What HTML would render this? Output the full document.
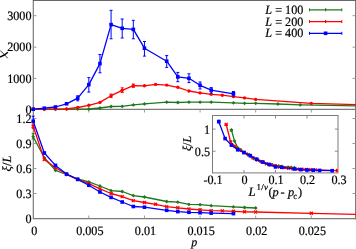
<!DOCTYPE html>
<html><head><meta charset="utf-8"><style>
html,body{margin:0;padding:0;background:#fff;width:356px;height:249px;overflow:hidden}
svg{display:block;will-change:transform}
text{font-family:"Liberation Serif",serif;fill:#000;stroke:#000;stroke-width:0.2px;text-rendering:geometricPrecision}
</style></head><body>
<svg width="356" height="249" viewBox="0 0 356 249">
<rect width="356" height="249" fill="#fff"/>
<defs><clipPath id="ct"><rect x="33" y="0" width="323" height="110"/></clipPath><clipPath id="cl"><rect x="33" y="109" width="323" height="110"/></clipPath><clipPath id="ci"><rect x="212.5" y="115.5" width="125.5" height="57.5"/></clipPath></defs>
<line x1="33.3" y1="0" x2="33.3" y2="219.3" stroke="#7a7a7a" stroke-width="1.2"/>
<line x1="355.5" y1="0" x2="355.5" y2="219.3" stroke="#7a7a7a" stroke-width="1.0"/>
<line x1="33" y1="0.4" x2="356" y2="0.4" stroke="#555555" stroke-width="1.0"/>
<line x1="33" y1="109.3" x2="356" y2="109.3" stroke="#7a7a7a" stroke-width="1.2"/>
<line x1="33" y1="218.6" x2="356" y2="218.6" stroke="#7a7a7a" stroke-width="1.3"/>
<line x1="33.5" y1="78.4" x2="36.5" y2="78.4" stroke="#999999" stroke-width="1"/>
<line x1="352.5" y1="78.4" x2="355.5" y2="78.4" stroke="#999999" stroke-width="1"/>
<line x1="33.5" y1="47.2" x2="36.5" y2="47.2" stroke="#999999" stroke-width="1"/>
<line x1="352.5" y1="47.2" x2="355.5" y2="47.2" stroke="#999999" stroke-width="1"/>
<line x1="33.5" y1="15.7" x2="36.5" y2="15.7" stroke="#999999" stroke-width="1"/>
<line x1="352.5" y1="15.7" x2="355.5" y2="15.7" stroke="#999999" stroke-width="1"/>
<line x1="33.5" y1="193.5" x2="36.5" y2="193.5" stroke="#999999" stroke-width="1"/>
<line x1="352.5" y1="193.5" x2="355.5" y2="193.5" stroke="#999999" stroke-width="1"/>
<line x1="33.5" y1="168.5" x2="36.5" y2="168.5" stroke="#999999" stroke-width="1"/>
<line x1="352.5" y1="168.5" x2="355.5" y2="168.5" stroke="#999999" stroke-width="1"/>
<line x1="33.5" y1="143.5" x2="36.5" y2="143.5" stroke="#999999" stroke-width="1"/>
<line x1="352.5" y1="143.5" x2="355.5" y2="143.5" stroke="#999999" stroke-width="1"/>
<line x1="33.5" y1="118.5" x2="36.5" y2="118.5" stroke="#999999" stroke-width="1"/>
<line x1="352.5" y1="118.5" x2="355.5" y2="118.5" stroke="#999999" stroke-width="1"/>
<line x1="88.8" y1="215.5" x2="88.8" y2="218.5" stroke="#999999" stroke-width="1"/>
<line x1="88.8" y1="109.5" x2="88.8" y2="112.5" stroke="#999999" stroke-width="1"/>
<line x1="144.45" y1="215.5" x2="144.45" y2="218.5" stroke="#999999" stroke-width="1"/>
<line x1="144.45" y1="109.5" x2="144.45" y2="112.5" stroke="#999999" stroke-width="1"/>
<line x1="200.1" y1="215.5" x2="200.1" y2="218.5" stroke="#999999" stroke-width="1"/>
<line x1="200.1" y1="109.5" x2="200.1" y2="112.5" stroke="#999999" stroke-width="1"/>
<line x1="255.7" y1="215.5" x2="255.7" y2="218.5" stroke="#999999" stroke-width="1"/>
<line x1="255.7" y1="109.5" x2="255.7" y2="112.5" stroke="#999999" stroke-width="1"/>
<line x1="311.3" y1="215.5" x2="311.3" y2="218.5" stroke="#999999" stroke-width="1"/>
<line x1="311.3" y1="109.5" x2="311.3" y2="112.5" stroke="#999999" stroke-width="1"/>
<polyline points="33.2,109.3 44.33,109.3 55.45,109.3 66.58,109.2 77.7,109.1 88.83,109 99.95,108 111.08,106.5 122.2,106.4 133.32,104.9 144.45,103.9 166.7,102.2 177.82,102.5 188.95,102.2 200.07,102.2 211.2,102.2 233.45,102.8 244.57,103.3 255.7,103.3 277.95,104 300.2,104.8 366.95,106" fill="none" stroke="#1c7a1c" stroke-width="1.3" stroke-linejoin="round" clip-path="url(#ct)"/>
<path d="M33.2,107.4L35.1,109.3L33.2,111.2L31.3,109.3Z" fill="#1c7a1c"/>
<path d="M44.33,107.4L46.23,109.3L44.33,111.2L42.43,109.3Z" fill="#1c7a1c"/>
<path d="M55.45,107.4L57.35,109.3L55.45,111.2L53.55,109.3Z" fill="#1c7a1c"/>
<path d="M66.58,107.3L68.48,109.2L66.58,111.1L64.67,109.2Z" fill="#1c7a1c"/>
<path d="M77.7,107.2L79.6,109.1L77.7,111L75.8,109.1Z" fill="#1c7a1c"/>
<path d="M88.83,107.1L90.73,109L88.83,110.9L86.92,109Z" fill="#1c7a1c"/>
<path d="M99.95,106.1L101.85,108L99.95,109.9L98.05,108Z" fill="#1c7a1c"/>
<path d="M111.08,104.6L112.98,106.5L111.08,108.4L109.17,106.5Z" fill="#1c7a1c"/>
<path d="M122.2,104.5L124.1,106.4L122.2,108.3L120.3,106.4Z" fill="#1c7a1c"/>
<path d="M133.32,103L135.22,104.9L133.32,106.8L131.42,104.9Z" fill="#1c7a1c"/>
<path d="M144.45,102L146.35,103.9L144.45,105.8L142.55,103.9Z" fill="#1c7a1c"/>
<path d="M166.7,100.3L168.6,102.2L166.7,104.1L164.8,102.2Z" fill="#1c7a1c"/>
<path d="M177.82,100.6L179.72,102.5L177.82,104.4L175.92,102.5Z" fill="#1c7a1c"/>
<path d="M188.95,100.3L190.85,102.2L188.95,104.1L187.05,102.2Z" fill="#1c7a1c"/>
<path d="M200.07,100.3L201.97,102.2L200.07,104.1L198.17,102.2Z" fill="#1c7a1c"/>
<path d="M211.2,100.3L213.1,102.2L211.2,104.1L209.3,102.2Z" fill="#1c7a1c"/>
<path d="M233.45,100.9L235.35,102.8L233.45,104.7L231.55,102.8Z" fill="#1c7a1c"/>
<path d="M244.57,101.4L246.47,103.3L244.57,105.2L242.67,103.3Z" fill="#1c7a1c"/>
<path d="M255.7,101.4L257.6,103.3L255.7,105.2L253.8,103.3Z" fill="#1c7a1c"/>
<path d="M277.95,102.1L279.85,104L277.95,105.9L276.05,104Z" fill="#1c7a1c"/>
<path d="M300.2,102.9L302.1,104.8L300.2,106.7L298.3,104.8Z" fill="#1c7a1c"/>
<polyline points="33.2,109.3 44.33,109.2 55.45,109.1 66.58,108.9 77.7,107.5 88.83,105.3 99.95,102.4 111.08,95.7 122.2,90.3 133.32,85.6 144.45,85.8 155.57,84.4 166.7,85.1 177.82,87.3 188.95,91 200.07,92.9 211.2,94.3 222.32,95.2 233.45,96.6 244.57,97.9 255.7,99.4 311.32,103.4 366.95,105" fill="none" stroke="#ff0000" stroke-width="1.3" stroke-linejoin="round" clip-path="url(#ct)"/>
<circle cx="33.2" cy="109.3" r="1.7" fill="#ff0000"/>
<circle cx="44.33" cy="109.2" r="1.7" fill="#ff0000"/>
<circle cx="55.45" cy="109.1" r="1.7" fill="#ff0000"/>
<circle cx="66.58" cy="108.9" r="1.7" fill="#ff0000"/>
<circle cx="77.7" cy="107.5" r="1.7" fill="#ff0000"/>
<circle cx="88.83" cy="105.3" r="1.7" fill="#ff0000"/>
<circle cx="99.95" cy="102.4" r="1.7" fill="#ff0000"/>
<path d="M111.08,94.1V97.5M109.58,94.1H112.58M109.58,97.5H112.58" stroke="#ff0000" stroke-width="1" fill="none"/>
<circle cx="111.08" cy="95.7" r="1.7" fill="#ff0000"/>
<path d="M122.2,87.8V92.6M120.7,87.8H123.7M120.7,92.6H123.7" stroke="#ff0000" stroke-width="1" fill="none"/>
<circle cx="122.2" cy="90.3" r="1.7" fill="#ff0000"/>
<path d="M133.32,84V87.4M131.82,84H134.82M131.82,87.4H134.82" stroke="#ff0000" stroke-width="1" fill="none"/>
<circle cx="133.32" cy="85.6" r="1.7" fill="#ff0000"/>
<circle cx="144.45" cy="85.8" r="1.7" fill="#ff0000"/>
<circle cx="155.57" cy="84.4" r="1.7" fill="#ff0000"/>
<circle cx="166.7" cy="85.1" r="1.7" fill="#ff0000"/>
<circle cx="177.82" cy="87.3" r="1.7" fill="#ff0000"/>
<circle cx="188.95" cy="91" r="1.7" fill="#ff0000"/>
<circle cx="200.07" cy="92.9" r="1.7" fill="#ff0000"/>
<circle cx="211.2" cy="94.3" r="1.7" fill="#ff0000"/>
<circle cx="222.32" cy="95.2" r="1.7" fill="#ff0000"/>
<circle cx="233.45" cy="96.6" r="1.7" fill="#ff0000"/>
<circle cx="244.57" cy="97.9" r="1.7" fill="#ff0000"/>
<circle cx="255.7" cy="99.4" r="1.7" fill="#ff0000"/>
<circle cx="311.32" cy="103.4" r="1.7" fill="#ff0000"/>
<polyline points="33.2,109.2 44.33,108.2 55.45,107 66.58,103.8 77.7,98.2 88.83,84.6 99.95,63.6 111.08,24.6 122.2,28.3 133.32,29.4 144.45,48.2 166.7,61.2 177.82,76.9 188.95,78.3 200.07,85.3 211.2,90.1 233.45,93.8" fill="none" stroke="#0000ff" stroke-width="1.3" stroke-linejoin="round" clip-path="url(#ct)"/>
<rect x="31.4" y="107.4" width="3.6" height="3.6" fill="#0000ff"/>
<rect x="42.53" y="106.4" width="3.6" height="3.6" fill="#0000ff"/>
<rect x="53.65" y="105.2" width="3.6" height="3.6" fill="#0000ff"/>
<rect x="64.78" y="102" width="3.6" height="3.6" fill="#0000ff"/>
<path d="M77.7,95.8V100.8M76.2,95.8H79.2M76.2,100.8H79.2" stroke="#0000ff" stroke-width="1" fill="none"/>
<rect x="75.9" y="96.4" width="3.6" height="3.6" fill="#0000ff"/>
<path d="M88.83,77.6V92.1M87.33,77.6H90.33M87.33,92.1H90.33" stroke="#0000ff" stroke-width="1" fill="none"/>
<rect x="87.03" y="82.8" width="3.6" height="3.6" fill="#0000ff"/>
<path d="M99.95,54.5V72.8M98.45,54.5H101.45M98.45,72.8H101.45" stroke="#0000ff" stroke-width="1" fill="none"/>
<rect x="98.15" y="61.8" width="3.6" height="3.6" fill="#0000ff"/>
<path d="M111.08,10.3V38.8M109.58,10.3H112.58M109.58,38.8H112.58" stroke="#0000ff" stroke-width="1" fill="none"/>
<rect x="109.28" y="22.8" width="3.6" height="3.6" fill="#0000ff"/>
<path d="M122.2,19V38M120.7,19H123.7M120.7,38H123.7" stroke="#0000ff" stroke-width="1" fill="none"/>
<rect x="120.4" y="26.5" width="3.6" height="3.6" fill="#0000ff"/>
<path d="M133.32,20.3V38.8M131.82,20.3H134.82M131.82,38.8H134.82" stroke="#0000ff" stroke-width="1" fill="none"/>
<rect x="131.52" y="27.6" width="3.6" height="3.6" fill="#0000ff"/>
<path d="M144.45,41.5V56.1M142.95,41.5H145.95M142.95,56.1H145.95" stroke="#0000ff" stroke-width="1" fill="none"/>
<rect x="142.65" y="46.4" width="3.6" height="3.6" fill="#0000ff"/>
<path d="M166.7,55.6V67.4M165.2,55.6H168.2M165.2,67.4H168.2" stroke="#0000ff" stroke-width="1" fill="none"/>
<rect x="164.9" y="59.4" width="3.6" height="3.6" fill="#0000ff"/>
<path d="M177.82,72.4V81.7M176.32,72.4H179.32M176.32,81.7H179.32" stroke="#0000ff" stroke-width="1" fill="none"/>
<rect x="176.02" y="75.1" width="3.6" height="3.6" fill="#0000ff"/>
<path d="M188.95,73.8V82.6M187.45,73.8H190.45M187.45,82.6H190.45" stroke="#0000ff" stroke-width="1" fill="none"/>
<rect x="187.15" y="76.5" width="3.6" height="3.6" fill="#0000ff"/>
<path d="M200.07,82V89M198.57,82H201.57M198.57,89H201.57" stroke="#0000ff" stroke-width="1" fill="none"/>
<rect x="198.27" y="83.5" width="3.6" height="3.6" fill="#0000ff"/>
<path d="M211.2,87.6V93M209.7,87.6H212.7M209.7,93H212.7" stroke="#0000ff" stroke-width="1" fill="none"/>
<rect x="209.4" y="88.3" width="3.6" height="3.6" fill="#0000ff"/>
<path d="M233.45,91.5V96M231.95,91.5H234.95M231.95,96H234.95" stroke="#0000ff" stroke-width="1" fill="none"/>
<rect x="231.65" y="92" width="3.6" height="3.6" fill="#0000ff"/>
<polyline points="33.2,136.7 44.33,157.8 55.45,170.3 66.58,174.5 77.7,179 88.83,181.9 99.95,186 111.08,190.7 122.2,191.5 133.32,195.6 144.45,197 166.7,201.5 177.82,202.2 188.95,204.4 200.07,204.7 211.2,205.7 233.45,206.9 244.57,207.5 255.7,208" fill="none" stroke="#1c7a1c" stroke-width="1.3" stroke-linejoin="round" clip-path="url(#cl)"/>
<path d="M33.2,133.7V139M31.7,133.7H34.7M31.7,139H34.7" stroke="#1c7a1c" stroke-width="1" fill="none"/>
<path d="M33.2,134.8L35.1,136.7L33.2,138.6L31.3,136.7Z" fill="#1c7a1c"/>
<path d="M44.33,155.9L46.23,157.8L44.33,159.7L42.43,157.8Z" fill="#1c7a1c"/>
<path d="M55.45,168.4L57.35,170.3L55.45,172.2L53.55,170.3Z" fill="#1c7a1c"/>
<path d="M66.58,172.6L68.48,174.5L66.58,176.4L64.67,174.5Z" fill="#1c7a1c"/>
<path d="M77.7,177.1L79.6,179L77.7,180.9L75.8,179Z" fill="#1c7a1c"/>
<path d="M88.83,180L90.73,181.9L88.83,183.8L86.92,181.9Z" fill="#1c7a1c"/>
<path d="M99.95,184.1L101.85,186L99.95,187.9L98.05,186Z" fill="#1c7a1c"/>
<path d="M111.08,188.8L112.98,190.7L111.08,192.6L109.17,190.7Z" fill="#1c7a1c"/>
<path d="M122.2,189.6L124.1,191.5L122.2,193.4L120.3,191.5Z" fill="#1c7a1c"/>
<path d="M133.32,193.7L135.22,195.6L133.32,197.5L131.42,195.6Z" fill="#1c7a1c"/>
<path d="M144.45,195.1L146.35,197L144.45,198.9L142.55,197Z" fill="#1c7a1c"/>
<path d="M166.7,199.6L168.6,201.5L166.7,203.4L164.8,201.5Z" fill="#1c7a1c"/>
<path d="M177.82,200.3L179.72,202.2L177.82,204.1L175.92,202.2Z" fill="#1c7a1c"/>
<path d="M188.95,202.5L190.85,204.4L188.95,206.3L187.05,204.4Z" fill="#1c7a1c"/>
<path d="M200.07,202.8L201.97,204.7L200.07,206.6L198.17,204.7Z" fill="#1c7a1c"/>
<path d="M211.2,203.8L213.1,205.7L211.2,207.6L209.3,205.7Z" fill="#1c7a1c"/>
<path d="M233.45,205L235.35,206.9L233.45,208.8L231.55,206.9Z" fill="#1c7a1c"/>
<path d="M244.57,205.6L246.47,207.5L244.57,209.4L242.67,207.5Z" fill="#1c7a1c"/>
<path d="M255.7,206.1L257.6,208L255.7,209.9L253.8,208Z" fill="#1c7a1c"/>
<polyline points="33.2,126.2 44.33,159.5 55.45,167.8 66.58,174.3 77.7,179.4 88.83,183.6 99.95,188.9 111.08,193.5 122.2,196.6 133.32,200.6 144.45,202.5 155.57,204.3 166.7,206.6 177.82,207.8 188.95,209 200.07,209.8 211.2,210.6 222.32,210.9 233.45,211.3 244.57,211.8 255.7,212 311.32,213.3 366.95,214.7" fill="none" stroke="#ff0000" stroke-width="1.3" stroke-linejoin="round" clip-path="url(#cl)"/>
<path d="M33.2,124V128.3M31.7,124H34.7M31.7,128.3H34.7" stroke="#ff0000" stroke-width="1" fill="none"/>
<path d="M31.7,124.7L34.7,127.7M31.7,127.7L34.7,124.7" stroke="#ff0000" stroke-width="1.3"/>
<path d="M42.83,158L45.83,161M42.83,161L45.83,158" stroke="#ff0000" stroke-width="1.3"/>
<path d="M53.95,166.3L56.95,169.3M53.95,169.3L56.95,166.3" stroke="#ff0000" stroke-width="1.3"/>
<path d="M65.08,172.8L68.08,175.8M65.08,175.8L68.08,172.8" stroke="#ff0000" stroke-width="1.3"/>
<path d="M76.2,177.9L79.2,180.9M76.2,180.9L79.2,177.9" stroke="#ff0000" stroke-width="1.3"/>
<path d="M87.33,182.1L90.33,185.1M87.33,185.1L90.33,182.1" stroke="#ff0000" stroke-width="1.3"/>
<path d="M98.45,187.4L101.45,190.4M98.45,190.4L101.45,187.4" stroke="#ff0000" stroke-width="1.3"/>
<path d="M109.58,192L112.58,195M109.58,195L112.58,192" stroke="#ff0000" stroke-width="1.3"/>
<path d="M120.7,195.1L123.7,198.1M120.7,198.1L123.7,195.1" stroke="#ff0000" stroke-width="1.3"/>
<path d="M131.82,199.1L134.82,202.1M131.82,202.1L134.82,199.1" stroke="#ff0000" stroke-width="1.3"/>
<path d="M142.95,201L145.95,204M142.95,204L145.95,201" stroke="#ff0000" stroke-width="1.3"/>
<path d="M154.07,202.8L157.07,205.8M154.07,205.8L157.07,202.8" stroke="#ff0000" stroke-width="1.3"/>
<path d="M165.2,205.1L168.2,208.1M165.2,208.1L168.2,205.1" stroke="#ff0000" stroke-width="1.3"/>
<path d="M176.32,206.3L179.32,209.3M176.32,209.3L179.32,206.3" stroke="#ff0000" stroke-width="1.3"/>
<path d="M187.45,207.5L190.45,210.5M187.45,210.5L190.45,207.5" stroke="#ff0000" stroke-width="1.3"/>
<path d="M198.57,208.3L201.57,211.3M198.57,211.3L201.57,208.3" stroke="#ff0000" stroke-width="1.3"/>
<path d="M209.7,209.1L212.7,212.1M209.7,212.1L212.7,209.1" stroke="#ff0000" stroke-width="1.3"/>
<path d="M220.82,209.4L223.82,212.4M220.82,212.4L223.82,209.4" stroke="#ff0000" stroke-width="1.3"/>
<path d="M231.95,209.8L234.95,212.8M231.95,212.8L234.95,209.8" stroke="#ff0000" stroke-width="1.3"/>
<path d="M243.07,210.3L246.07,213.3M243.07,213.3L246.07,210.3" stroke="#ff0000" stroke-width="1.3"/>
<path d="M254.2,210.5L257.2,213.5M254.2,213.5L257.2,210.5" stroke="#ff0000" stroke-width="1.3"/>
<path d="M309.82,211.8L312.82,214.8M309.82,214.8L312.82,211.8" stroke="#ff0000" stroke-width="1.3"/>
<polyline points="33.2,121.2 44.33,153 55.45,165.4 66.58,174.1 77.7,179.4 88.83,185.3 99.95,192 111.08,197.4 122.2,202 133.32,206.5 144.45,207.2 166.7,210.3 177.82,211.6 188.95,212.3 200.07,212.7 211.2,213.1 233.45,213.6" fill="none" stroke="#0000ff" stroke-width="1.3" stroke-linejoin="round" clip-path="url(#cl)"/>
<path d="M33.2,116.2V122.2M31.7,116.2H34.7M31.7,122.2H34.7" stroke="#0000ff" stroke-width="1" fill="none"/>
<rect x="31.4" y="119.4" width="3.6" height="3.6" fill="#0000ff"/>
<rect x="42.53" y="151.2" width="3.6" height="3.6" fill="#0000ff"/>
<rect x="53.65" y="163.6" width="3.6" height="3.6" fill="#0000ff"/>
<rect x="64.78" y="172.3" width="3.6" height="3.6" fill="#0000ff"/>
<rect x="75.9" y="177.6" width="3.6" height="3.6" fill="#0000ff"/>
<rect x="87.03" y="183.5" width="3.6" height="3.6" fill="#0000ff"/>
<rect x="98.15" y="190.2" width="3.6" height="3.6" fill="#0000ff"/>
<rect x="109.28" y="195.6" width="3.6" height="3.6" fill="#0000ff"/>
<rect x="120.4" y="200.2" width="3.6" height="3.6" fill="#0000ff"/>
<rect x="131.52" y="204.7" width="3.6" height="3.6" fill="#0000ff"/>
<rect x="142.65" y="205.4" width="3.6" height="3.6" fill="#0000ff"/>
<rect x="164.9" y="208.5" width="3.6" height="3.6" fill="#0000ff"/>
<rect x="176.02" y="209.8" width="3.6" height="3.6" fill="#0000ff"/>
<rect x="187.15" y="210.5" width="3.6" height="3.6" fill="#0000ff"/>
<rect x="198.27" y="210.9" width="3.6" height="3.6" fill="#0000ff"/>
<rect x="209.4" y="211.3" width="3.6" height="3.6" fill="#0000ff"/>
<rect x="231.65" y="211.8" width="3.6" height="3.6" fill="#0000ff"/>
<rect x="212.5" y="115.5" width="125.5" height="57.4" fill="#fff" stroke="#7a7a7a" stroke-width="1"/>
<line x1="244" y1="172.9" x2="244" y2="170" stroke="#888" stroke-width="1"/>
<line x1="244" y1="115.5" x2="244" y2="118.6" stroke="#888" stroke-width="1"/>
<line x1="275.5" y1="172.9" x2="275.5" y2="170" stroke="#888" stroke-width="1"/>
<line x1="275.5" y1="115.5" x2="275.5" y2="118.6" stroke="#888" stroke-width="1"/>
<line x1="307" y1="172.9" x2="307" y2="170" stroke="#888" stroke-width="1"/>
<line x1="307" y1="115.5" x2="307" y2="118.6" stroke="#888" stroke-width="1"/>
<line x1="212.5" y1="151.2" x2="215.6" y2="151.2" stroke="#888" stroke-width="1"/>
<line x1="338" y1="151.2" x2="334.9" y2="151.2" stroke="#888" stroke-width="1"/>
<line x1="212.5" y1="129.1" x2="215.6" y2="129.1" stroke="#888" stroke-width="1"/>
<line x1="338" y1="129.1" x2="334.9" y2="129.1" stroke="#888" stroke-width="1"/>
<polyline points="231.4,129.91 234.55,141.1 237.7,147.73 240.85,149.96 244,152.35 247.15,153.89 250.3,156.06 253.45,158.55 256.6,158.98 259.75,161.15 262.9,161.9 269.2,164.28 272.35,164.65 275.5,165.82 278.65,165.98 281.8,166.51 288.1,167.15 291.25,167.47 294.4,167.73" fill="none" stroke="#1c7a1c" stroke-width="1.3" stroke-linejoin="round" clip-path="url(#ci)"/>
<g clip-path="url(#ci)">
<path d="M231.4,129.52V131.13M229.8,129.52H233M229.8,131.13H233" stroke="#1c7a1c" stroke-width="1" fill="none"/>
<path d="M231.4,128.01L233.3,129.91L231.4,131.81L229.5,129.91Z" fill="#1c7a1c"/>
<path d="M234.55,139.2L236.45,141.1L234.55,143L232.65,141.1Z" fill="#1c7a1c"/>
<path d="M237.7,145.83L239.6,147.73L237.7,149.63L235.8,147.73Z" fill="#1c7a1c"/>
<path d="M240.85,148.06L242.75,149.96L240.85,151.86L238.95,149.96Z" fill="#1c7a1c"/>
<path d="M244,150.45L245.9,152.35L244,154.25L242.1,152.35Z" fill="#1c7a1c"/>
<path d="M247.15,151.99L249.05,153.89L247.15,155.79L245.25,153.89Z" fill="#1c7a1c"/>
<path d="M250.3,154.16L252.2,156.06L250.3,157.96L248.4,156.06Z" fill="#1c7a1c"/>
<path d="M253.45,156.65L255.35,158.55L253.45,160.45L251.55,158.55Z" fill="#1c7a1c"/>
<path d="M256.6,157.08L258.5,158.98L256.6,160.88L254.7,158.98Z" fill="#1c7a1c"/>
<path d="M259.75,159.25L261.65,161.15L259.75,163.05L257.85,161.15Z" fill="#1c7a1c"/>
<path d="M262.9,160L264.8,161.9L262.9,163.8L261,161.9Z" fill="#1c7a1c"/>
<path d="M269.2,162.38L271.1,164.28L269.2,166.18L267.3,164.28Z" fill="#1c7a1c"/>
<path d="M272.35,162.75L274.25,164.65L272.35,166.55L270.45,164.65Z" fill="#1c7a1c"/>
<path d="M275.5,163.92L277.4,165.82L275.5,167.72L273.6,165.82Z" fill="#1c7a1c"/>
<path d="M278.65,164.08L280.55,165.98L278.65,167.88L276.75,165.98Z" fill="#1c7a1c"/>
<path d="M281.8,164.61L283.7,166.51L281.8,168.41L279.9,166.51Z" fill="#1c7a1c"/>
<path d="M288.1,165.25L290,167.15L288.1,169.05L286.2,167.15Z" fill="#1c7a1c"/>
<path d="M291.25,165.57L293.15,167.47L291.25,169.37L289.35,167.47Z" fill="#1c7a1c"/>
<path d="M294.4,165.83L296.3,167.73L294.4,169.63L292.5,167.73Z" fill="#1c7a1c"/>
</g>
<polyline points="226.18,124.34 230.64,142.01 235.09,146.41 239.55,149.86 244,152.56 248.45,154.79 252.91,157.6 257.36,160.04 261.82,161.68 266.27,163.81 270.73,164.81 275.18,165.77 279.64,166.99 284.09,167.62 288.55,168.26 293,168.69 297.46,169.11 301.91,169.27 306.37,169.48 310.82,169.75 315.28,169.85 337.55,170.54 359.82,171.28" fill="none" stroke="#ff0000" stroke-width="1.3" stroke-linejoin="round" clip-path="url(#ci)"/>
<g clip-path="url(#ci)">
<path d="M226.18,124.38V125.46M224.58,124.38H227.78M224.58,125.46H227.78" stroke="#ff0000" stroke-width="1" fill="none"/>
<path d="M224.68,122.84L227.68,125.84M224.68,125.84L227.68,122.84" stroke="#ff0000" stroke-width="1.3"/>
<path d="M229.14,140.51L232.14,143.51M229.14,143.51L232.14,140.51" stroke="#ff0000" stroke-width="1.3"/>
<path d="M233.59,144.91L236.59,147.91M233.59,147.91L236.59,144.91" stroke="#ff0000" stroke-width="1.3"/>
<path d="M238.05,148.36L241.05,151.36M238.05,151.36L241.05,148.36" stroke="#ff0000" stroke-width="1.3"/>
<path d="M242.5,151.06L245.5,154.06M242.5,154.06L245.5,151.06" stroke="#ff0000" stroke-width="1.3"/>
<path d="M246.95,153.29L249.95,156.29M246.95,156.29L249.95,153.29" stroke="#ff0000" stroke-width="1.3"/>
<path d="M251.41,156.1L254.41,159.1M251.41,159.1L254.41,156.1" stroke="#ff0000" stroke-width="1.3"/>
<path d="M255.86,158.54L258.86,161.54M255.86,161.54L258.86,158.54" stroke="#ff0000" stroke-width="1.3"/>
<path d="M260.32,160.18L263.32,163.18M260.32,163.18L263.32,160.18" stroke="#ff0000" stroke-width="1.3"/>
<path d="M264.77,162.31L267.77,165.31M264.77,165.31L267.77,162.31" stroke="#ff0000" stroke-width="1.3"/>
<path d="M269.23,163.31L272.23,166.31M269.23,166.31L272.23,163.31" stroke="#ff0000" stroke-width="1.3"/>
<path d="M273.68,164.27L276.68,167.27M273.68,167.27L276.68,164.27" stroke="#ff0000" stroke-width="1.3"/>
<path d="M278.14,165.49L281.14,168.49M278.14,168.49L281.14,165.49" stroke="#ff0000" stroke-width="1.3"/>
<path d="M282.59,166.12L285.59,169.12M282.59,169.12L285.59,166.12" stroke="#ff0000" stroke-width="1.3"/>
<path d="M287.05,166.76L290.05,169.76M287.05,169.76L290.05,166.76" stroke="#ff0000" stroke-width="1.3"/>
<path d="M291.5,167.19L294.5,170.19M291.5,170.19L294.5,167.19" stroke="#ff0000" stroke-width="1.3"/>
<path d="M295.96,167.61L298.96,170.61M295.96,170.61L298.96,167.61" stroke="#ff0000" stroke-width="1.3"/>
<path d="M300.41,167.77L303.41,170.77M300.41,170.77L303.41,167.77" stroke="#ff0000" stroke-width="1.3"/>
<path d="M304.87,167.98L307.87,170.98M304.87,170.98L307.87,167.98" stroke="#ff0000" stroke-width="1.3"/>
<path d="M309.32,168.25L312.32,171.25M309.32,171.25L312.32,168.25" stroke="#ff0000" stroke-width="1.3"/>
<path d="M313.78,168.35L316.78,171.35M313.78,171.35L316.78,168.35" stroke="#ff0000" stroke-width="1.3"/>
<path d="M336.05,169.04L339.05,172.04M336.05,172.04L339.05,169.04" stroke="#ff0000" stroke-width="1.3"/>
<path d="M358.32,169.78L361.32,172.78M358.32,172.78L361.32,169.78" stroke="#ff0000" stroke-width="1.3"/>
</g>
<polyline points="218.8,121.69 225.1,138.56 231.4,145.13 237.7,149.75 244,152.56 250.3,155.69 256.6,159.24 262.9,162.11 269.2,164.55 275.5,166.93 281.8,167.31 294.4,168.95 300.7,169.64 307,170.01 313.3,170.22 319.6,170.44 332.2,170.7" fill="none" stroke="#0000ff" stroke-width="1.3" stroke-linejoin="round" clip-path="url(#ci)"/>
<g clip-path="url(#ci)">
<path d="M218.8,120.24V122.22M217.2,120.24H220.4M217.2,122.22H220.4" stroke="#0000ff" stroke-width="1" fill="none"/>
<rect x="217" y="119.89" width="3.6" height="3.6" fill="#0000ff"/>
<rect x="223.3" y="136.76" width="3.6" height="3.6" fill="#0000ff"/>
<rect x="229.6" y="143.33" width="3.6" height="3.6" fill="#0000ff"/>
<rect x="235.9" y="147.95" width="3.6" height="3.6" fill="#0000ff"/>
<rect x="242.2" y="150.76" width="3.6" height="3.6" fill="#0000ff"/>
<rect x="248.5" y="153.89" width="3.6" height="3.6" fill="#0000ff"/>
<rect x="254.8" y="157.44" width="3.6" height="3.6" fill="#0000ff"/>
<rect x="261.1" y="160.31" width="3.6" height="3.6" fill="#0000ff"/>
<rect x="267.4" y="162.75" width="3.6" height="3.6" fill="#0000ff"/>
<rect x="273.7" y="165.13" width="3.6" height="3.6" fill="#0000ff"/>
<rect x="280" y="165.51" width="3.6" height="3.6" fill="#0000ff"/>
<rect x="292.6" y="167.15" width="3.6" height="3.6" fill="#0000ff"/>
<rect x="298.9" y="167.84" width="3.6" height="3.6" fill="#0000ff"/>
<rect x="305.2" y="168.21" width="3.6" height="3.6" fill="#0000ff"/>
<rect x="311.5" y="168.42" width="3.6" height="3.6" fill="#0000ff"/>
<rect x="317.8" y="168.64" width="3.6" height="3.6" fill="#0000ff"/>
<rect x="330.4" y="168.9" width="3.6" height="3.6" fill="#0000ff"/>
</g>
<line x1="309.5" y1="9.8" x2="341.8" y2="9.8" stroke="#1c7a1c" stroke-width="1.3"/>
<line x1="309.5" y1="8.3" x2="309.5" y2="11.3" stroke="#1c7a1c" stroke-width="1"/>
<line x1="341.8" y1="8.3" x2="341.8" y2="11.3" stroke="#1c7a1c" stroke-width="1"/>
<line x1="325.6" y1="8.3" x2="325.6" y2="11.3" stroke="#1c7a1c" stroke-width="1.2"/>
<line x1="309.5" y1="21.55" x2="341.8" y2="21.55" stroke="#ff0000" stroke-width="1.3"/>
<line x1="309.5" y1="20.05" x2="309.5" y2="23.05" stroke="#ff0000" stroke-width="1"/>
<line x1="341.8" y1="20.05" x2="341.8" y2="23.05" stroke="#ff0000" stroke-width="1"/>
<line x1="325.6" y1="20.05" x2="325.6" y2="23.05" stroke="#ff0000" stroke-width="1.2"/>
<line x1="309.5" y1="33.3" x2="341.8" y2="33.3" stroke="#0000ff" stroke-width="1.3"/>
<line x1="309.5" y1="31.8" x2="309.5" y2="34.8" stroke="#0000ff" stroke-width="1"/>
<line x1="341.8" y1="31.8" x2="341.8" y2="34.8" stroke="#0000ff" stroke-width="1"/>
<rect x="323.8" y="31.5" width="3.6" height="3.6" fill="#0000ff"/>
<text transform="translate(31.5,20.01) scale(0.95,1)" font-size="12.8" text-anchor="end">3000</text>
<text transform="translate(31.5,51.34) scale(0.95,1)" font-size="12.8" text-anchor="end">2000</text>
<text transform="translate(31.5,82.67) scale(0.95,1)" font-size="12.8" text-anchor="end">1000</text>
<text transform="translate(31.5,114) scale(0.95,1)" font-size="12.8" text-anchor="end">0</text>
<text transform="translate(31.5,122.9) scale(0.95,1)" font-size="12.8" text-anchor="end">1.2</text>
<text transform="translate(31.5,147.9) scale(0.95,1)" font-size="12.8" text-anchor="end">0.9</text>
<text transform="translate(31.5,172.9) scale(0.95,1)" font-size="12.8" text-anchor="end">0.6</text>
<text transform="translate(31.5,197.9) scale(0.95,1)" font-size="12.8" text-anchor="end">0.3</text>
<text transform="translate(31.5,222.9) scale(0.95,1)" font-size="12.8" text-anchor="end">0</text>
<text transform="translate(34.2,234.9) scale(0.95,1)" font-size="12.8" text-anchor="middle">0</text>
<text transform="translate(89.83,234.9) scale(0.95,1)" font-size="12.8" text-anchor="middle">0.005</text>
<text transform="translate(145.45,234.9) scale(0.95,1)" font-size="12.8" text-anchor="middle">0.01</text>
<text transform="translate(201.07,234.9) scale(0.95,1)" font-size="12.8" text-anchor="middle">0.015</text>
<text transform="translate(256.7,234.9) scale(0.95,1)" font-size="12.8" text-anchor="middle">0.02</text>
<text transform="translate(312.32,234.9) scale(0.95,1)" font-size="12.8" text-anchor="middle">0.025</text>
<text transform="translate(194.3,246) scale(1,1)" font-size="12" text-anchor="middle" font-style="italic">p</text>
<path d="M-0.6,57.2 C2,56.4 5,55.0 7.9,52.2" stroke="#000" stroke-width="1.35" fill="none"/><path d="M0.3,50.8 C2.6,52.6 5.4,55.6 7.7,58.3" stroke="#000" stroke-width="0.8" fill="none"/>
<text transform="translate(11,163.5) rotate(-90)" font-size="12.5" text-anchor="middle"><tspan font-style="italic">ξ</tspan>/<tspan font-style="italic">L</tspan></text>
<text transform="translate(210,134) scale(0.95,1)" font-size="12.8" text-anchor="end">1</text>
<text transform="translate(210,156.1) scale(0.95,1)" font-size="12.8" text-anchor="end">0.5</text>
<text transform="translate(213,184.1) scale(0.95,1)" font-size="12.8" text-anchor="middle">-0.1</text>
<text transform="translate(244.5,184.1) scale(0.95,1)" font-size="12.8" text-anchor="middle">0</text>
<text transform="translate(276,184.1) scale(0.95,1)" font-size="12.8" text-anchor="middle">0.1</text>
<text transform="translate(307.5,184.1) scale(0.95,1)" font-size="12.8" text-anchor="middle">0.2</text>
<text transform="translate(339,184.1) scale(0.95,1)" font-size="12.8" text-anchor="middle">0.3</text>
<text transform="translate(190.5,143.5) rotate(-90)" font-size="12" text-anchor="middle"><tspan font-style="italic">ξ</tspan>/<tspan font-style="italic">L</tspan></text>
<text x="248.4" y="196" font-size="12.8" font-style="italic">L</text>
<text x="256.4" y="189.9" font-size="9" letter-spacing="0.3">1/<tspan font-style="italic">ν</tspan></text>
<text x="268.4" y="196" font-size="12.4">(</text>
<text x="272.6" y="196" font-size="12.4" font-style="italic">p</text>
<text x="280.6" y="196" font-size="12.4">-</text>
<text x="287.9" y="196" font-size="12.4" font-style="italic">p</text>
<text x="293.3" y="198.6" font-size="8.8">c</text>
<text x="298.1" y="196" font-size="12.4">)</text>
<text transform="translate(265.3,14) scale(0.96,1)" font-size="12.7"><tspan font-style="italic">L</tspan> = 100</text>
<text transform="translate(265.3,25.6) scale(0.96,1)" font-size="12.7"><tspan font-style="italic">L</tspan> = 200</text>
<text transform="translate(265.3,37.2) scale(0.96,1)" font-size="12.7"><tspan font-style="italic">L</tspan> = 400</text>
</svg>
</body></html>
